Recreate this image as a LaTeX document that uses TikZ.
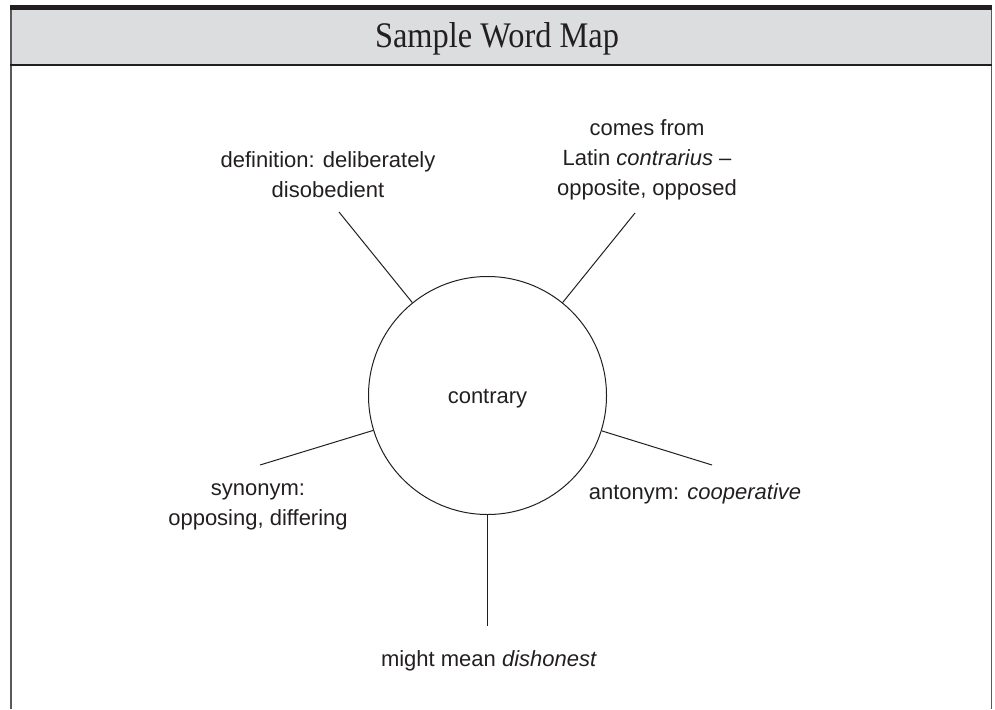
\documentclass[tikz,border=0pt]{standalone}
\usepackage{fontspec}
\setmainfont{Liberation Sans}
\newfontfamily\titlefont{Liberation Serif}
\usepackage{graphicx}
\definecolor{ink}{HTML}{231F20}
\definecolor{headgray}{HTML}{DCDDDF}
\definecolor{rulegray}{HTML}{5A5A5C}
\begin{document}
\begin{tikzpicture}[x=1pt,y=-1pt,
  label/.style={font=\fontsize{22}{30}\selectfont, text=ink, align=center, inner sep=0pt},
  spoke/.style={draw=ink, line width=1pt},
  hub/.style={circle, draw=ink, line width=1pt, minimum size=238pt, inner sep=0pt, font=\fontsize{22}{30}\selectfont, text=ink, text height=20pt, text depth=4.6pt}]
\useasboundingbox (0,0) rectangle (995,709);
% frame
\fill[headgray] (10,10) rectangle (992,65);
\fill[ink] (10,5) rectangle (992,10);
\draw[rulegray, line width=1.6pt] (11,10) -- (11,709);
\draw[rulegray, line width=1.6pt] (991.5,10) -- (991.5,709);
\draw[ink, line width=1.6pt] (10,65) -- (992,65);
\node[text=ink, inner sep=0pt] (title) at (497,39) {\titlefont\fontsize{36}{40}\selectfont\scalebox{0.9}[1]{Sample Word Map}};
% hub
\node[hub] (c) at (487.5,395.5) {contrary};
\coordinate (d1) at (339,212);
\coordinate (d2) at (635,213);
\coordinate (d3) at (260,465);
\coordinate (d4) at (712,465);
\coordinate (d5) at (487.5,626);
\draw[spoke] (c) -- (d1);
\draw[spoke] (c) -- (d2);
\draw[spoke] (c) -- (d3);
\draw[spoke] (c) -- (d4);
\draw[spoke] (c) -- (d5);
% labels
\node[label] (def) at (328,175) {definition: deliberately\\disobedient};
\node[label] (ety) at (647,160) {comes from\\Latin \textit{contrarius} –\\opposite, opposed};
\node[label] (syn) at (258,507) {synonym:\\opposing, differing};
\node[label] (ant) at (695,494) {antonym: \textit{cooperative}};
\node[label] (mean) at (489,661) {might mean \textit{dishonest}};
\end{tikzpicture}
\end{document}
